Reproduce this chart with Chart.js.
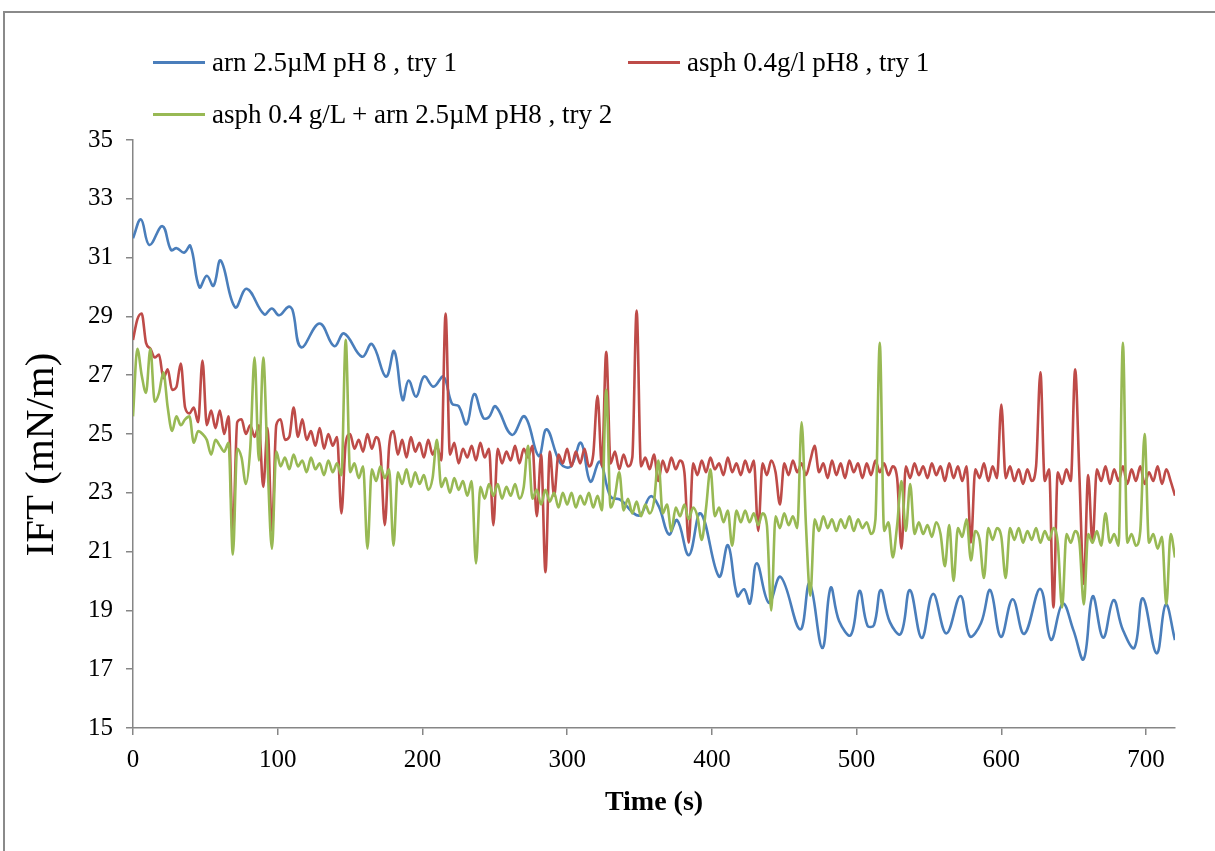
<!DOCTYPE html>
<html><head><meta charset="utf-8">
<script src="https://cdn.jsdelivr.net/npm/chart.js@4.4.1/dist/chart.umd.min.js"></script>
<style>
html,body{margin:0;padding:0;background:#fff;overflow:hidden;}
#wrap{position:relative;width:1215px;height:851px;overflow:hidden;}
#frame{position:absolute;left:3px;top:11px;width:1300px;height:1000px;border:2px solid #8a8a8a;box-sizing:border-box;}
#chart{position:absolute;left:0;top:0;}
.leg{position:absolute;height:30px;font-family:"Liberation Serif",serif;font-size:27px;color:#000;white-space:nowrap;display:flex;align-items:center;}
.leg .ln{display:inline-block;width:52px;height:3px;margin-right:7px;}
</style></head>
<body>
<div id="wrap">
<div id="frame"></div>
<canvas id="chart" width="1215" height="851"></canvas>
<div class="leg" style="left:153px;top:47px;"><span class="ln" style="background:#4a7ebb"></span>arn 2.5µM pH 8 , try 1</div>
<div class="leg" style="left:628px;top:47px;"><span class="ln" style="background:#be4b48"></span>asph 0.4g/l pH8 , try 1</div>
<div class="leg" style="left:153px;top:99px;"><span class="ln" style="background:#98b954"></span>asph 0.4 g/L + arn 2.5µM pH8 , try 2</div>
</div>
<script>
const seriesNames = ['arn 2.5µM pH 8 , try 1', 'asph 0.4g/l pH8 , try 1', 'asph 0.4 g/L + arn 2.5µM pH8 , try 2'];

const tBlue = [0,5.5,11.3,20.3,26.3,30.2,35.3,39.6,45.9,51,55.6,60.6,70.6,78.6,90.6,95.9,101,107.4,110.2,116.2,128.9,139,145.9,158.2,165.1,174.8,180.5,186.3,190.4,195.7,201.2,207.7,214.5,220.4,225,230.5,235.8,242,245.8,250.6,261.8,270.6,280.3,285.8,295.4,302.3,309.5,316,322.6,330,336.9,346,350.7,357.6,363.4,370.3,376,384.1,392.2,404.9,411.1,417.6,422.2,426.3,431,439.4,447.5,461,467.5,476.3,482.1,487.9,496,502,507.5,512,516.7,523,530.5,536.8,545,552.8,562,571.8,578.2,585.9,592.3,599.7,607.8,615.8,626.9,634.3,642.4,649.8,656.9,663.1,670.4,677.5,683.8,691.9,697.7,707.3,713.6,720];
const vBlue = [31.66,32.30,31.43,32.07,31.26,31.32,31.17,31.40,29.99,30.38,30.04,30.90,29.31,29.94,29.07,29.27,29.04,29.33,29.22,27.95,28.76,27.99,28.42,27.63,28.06,26.95,27.82,26.16,26.82,26.27,26.96,26.61,26.95,26.03,25.95,25.33,26.36,25.55,25.57,25.94,24.97,25.60,24.25,25.16,24.00,23.89,24.70,23.38,24.06,22.87,22.76,22.30,22.25,22.88,22.53,21.58,22.07,20.88,22.30,20.15,21.22,19.49,19.72,19.24,20.60,19.26,20.14,18.35,19.92,17.72,19.77,18.64,18.16,19.66,18.48,18.50,19.69,18.60,18.20,19.69,18.06,19.56,18.22,19.49,18.12,18.56,19.69,18.10,19.38,18.20,19.73,18.00,19.23,18.33,17.34,19.48,18.07,19.35,18.36,17.73,19.41,17.54,19.20,17.99];

const tFast = [
0,3,6,9,12,15,18,21,24,27,
30,33,36,39,42,45,48,51,54,57,
60,63,66,69,72,75,78,81,84,87,
90,93,96,99,102,105,108,111,114,117,
120,123,126,129,132,135,138,141,144,147,
150,153,156,159,162,165,168,171,174,177,
180,183,186,189,192,195,198,201,204,207,
210,213,216,219,222,225,228,231,234,237,
240,243,246,249,252,255,258,261,264,267,
270,273,276,279,282,285,288,291,294,297,
300,303,306,309,312,315,318,321,324,327,
330,333,336,339,342,345,348,351,354,357,
360,363,366,369,372,375,378,381,384,387,
390,393,396,399,402,405,408,411,414,417,
420,423,426,429,432,435,438,441,444,447,
450,453,456,459,462,465,468,471,474,477,
480,483,486,489,492,495,498,501,504,507,
510,513,516,519,522,525,528,531,534,537,
540,543,546,549,552,555,558,561,564,567,
570,573,576,579,582,585,588,591,594,597,
600,603,606,609,612,615,618,621,624,627,
630,633,636,639,642,645,648,651,654,657,
660,663,666,669,672,675,678,681,684,687,
690,693,696,699,702,705,708,711,714,717,
720];

const vRed = [
28.2,28.9,29.1,28.1,27.9,27.6,27.7,26.9,27.2,26.5,
26.6,27.4,25.9,25.7,25.9,25.4,27.5,25.3,25.8,25.2,
25.8,25.0,25.6,21.6,25.4,25.5,25.0,25.3,24.9,25.3,
23.2,25.2,21.7,25.3,25.5,24.8,24.9,25.9,24.9,25.5,
24.8,25.1,24.6,25.2,24.5,25.0,24.6,24.9,22.3,24.7,
25.0,24.5,24.8,24.4,25.0,24.5,24.9,24.4,21.9,24.6,
25.1,24.3,24.8,24.2,24.9,24.4,24.7,24.2,24.8,24.3,
24.6,24.1,29.1,24.3,24.7,24.0,24.5,24.2,24.6,24.1,
24.7,24.2,24.5,21.9,24.5,24.0,24.4,24.1,24.6,24.0,
24.5,24.2,24.6,22.2,24.3,20.3,24.4,22.9,24.3,24.0,
24.5,23.9,24.4,24.0,24.5,23.9,24.3,26.3,23.9,27.8,
24.0,24.4,23.8,24.3,23.9,24.2,29.2,23.9,24.2,23.8,
24.3,23.4,24.1,23.7,24.2,23.8,24.1,23.7,21.3,24.0,
23.6,24.1,23.7,24.2,23.8,24.0,23.6,24.2,23.7,24.0,
23.6,24.1,23.7,24.1,21.7,24.0,23.6,24.1,23.7,22.6,
24.0,23.6,24.1,23.7,24.0,23.6,24.1,24.6,23.7,24.0,
23.5,24.1,23.6,24.0,23.5,24.1,23.7,24.0,23.5,24.0,
23.6,24.1,23.7,24.0,23.6,23.9,23.5,21.1,23.9,23.5,
24.0,23.6,23.9,23.5,24.0,23.6,23.9,23.4,24.0,23.5,
23.9,23.4,23.9,21.3,23.8,23.5,24.0,23.4,23.9,23.5,
26.0,23.5,23.9,23.4,23.8,23.3,23.8,23.4,23.9,27.1,
23.4,23.8,19.1,23.7,23.3,23.8,23.4,27.2,23.5,19.9,
23.6,21.3,23.8,23.4,23.9,23.3,23.8,23.4,23.9,23.3,
23.8,23.4,23.9,23.3,23.7,23.4,23.9,23.3,23.8,23.4,
22.9];

const vGreen = [
25.6,27.9,27.0,26.4,27.9,26.1,26.4,27.1,25.9,25.1,
25.6,25.3,25.5,25.6,24.7,25.1,25.0,24.8,24.3,24.8,
24.6,24.4,24.7,20.9,24.5,24.2,23.3,24.5,27.6,24.1,
27.6,24.0,21.1,24.4,23.9,24.2,23.8,24.3,23.9,24.1,
23.7,24.2,23.8,24.0,23.6,24.1,23.7,24.0,23.6,28.2,
23.7,24.0,23.5,23.9,21.1,23.8,23.4,23.9,23.5,23.8,
21.2,23.7,23.3,23.8,23.2,23.7,23.3,23.6,23.1,23.5,
24.8,23.2,23.5,23.0,23.5,23.1,23.4,22.9,23.4,20.6,
23.2,22.8,23.3,22.9,23.3,22.8,23.2,22.9,23.3,22.8,
23.2,24.6,22.8,23.1,22.6,23.1,22.7,23.0,22.5,23.0,
22.6,23.0,22.5,22.9,22.6,23.0,22.5,22.9,22.4,26.5,
22.5,22.9,23.7,22.4,22.8,22.3,22.7,22.2,22.6,22.3,
22.7,24.1,22.3,22.6,21.7,22.5,22.2,22.6,22.1,22.5,
22.2,21.4,22.5,23.8,22.2,22.5,22.0,22.4,21.2,22.4,
22.0,22.4,22.0,22.3,21.9,22.3,21.9,19.0,22.2,21.8,
22.3,21.9,22.2,21.8,25.4,21.9,19.5,22.1,21.7,22.2,
21.8,22.1,21.7,22.1,21.8,22.2,21.7,22.1,21.8,22.0,
21.6,22.1,28.1,21.7,22.0,20.8,21.9,23.4,21.7,23.3,
21.6,22.0,21.6,21.9,21.5,22.0,21.6,20.5,21.9,20.0,
21.8,21.5,22.1,20.7,21.7,21.4,20.1,21.8,21.4,21.8,
21.5,20.1,21.8,21.4,21.8,21.3,21.7,21.4,21.8,21.3,
21.7,21.4,21.8,21.3,19.1,21.6,21.3,21.7,21.3,19.2,
21.6,21.3,21.7,21.2,22.3,21.3,21.6,21.2,28.1,21.3,
21.6,21.2,21.7,25.0,21.3,21.6,21.1,21.5,19.2,21.6,
20.8];

const xTicks = [0,100,200,300,400,500,600,700];
const yTicks = [15,17,19,21,23,25,27,29,31,33,35];

function pts(ts, vs){ return ts.map((t,i)=>({x:t,y:vs[i]})); }

const tickFont = {family:'"Liberation Serif", serif', size:25};
new Chart(document.getElementById('chart'), {
  type:'line',
  data:{datasets:[
    {label:seriesNames[0], data:pts(tBlue,vBlue), borderColor:'#4a7ebb', borderWidth:2.6, pointRadius:0, tension:0.4, order:3},
    {label:seriesNames[1], data:pts(tFast,vRed), borderColor:'#be4b48', borderWidth:2.6, pointRadius:0, cubicInterpolationMode:'monotone', order:2},
    {label:seriesNames[2], data:pts(tFast,vGreen), borderColor:'#98b954', borderWidth:2.6, pointRadius:0, cubicInterpolationMode:'monotone', order:1}
  ]},
  options:{
    responsive:false, animation:false, events:[],
    layout:{padding:{left:0,right:40,top:140,bottom:0}},
    plugins:{legend:{display:false}, tooltip:{enabled:false}},
    scales:{
      x:{type:'linear', min:0, max:720,
        afterBuildTicks(s){ s.ticks = xTicks.map(v=>({value:v})); },
        ticks:{font:tickFont, color:'#000', padding:10, maxRotation:0, autoSkip:false},
        grid:{display:true, drawOnChartArea:false, drawTicks:true, tickLength:7, color:'#868686', lineWidth:1.5},
        border:{display:true, color:'#868686', width:1.5},
        title:{display:true, text:'Time (s)', color:'#000', font:{family:'"Liberation Serif", serif', size:28, weight:'bold'}, padding:{top:0,bottom:31}},
        afterFit(s){ s.height = 123; }
      },
      y:{type:'linear', min:15, max:35,
        afterBuildTicks(s){ s.ticks = yTicks.map(v=>({value:v})); },
        ticks:{font:tickFont, color:'#000', padding:13, autoSkip:false},
        grid:{display:true, drawOnChartArea:false, drawTicks:true, tickLength:7, color:'#868686', lineWidth:1.5},
        border:{display:true, color:'#868686', width:1.5},
        title:{display:true, text:'IFT (mN/m)    ', color:'#000', font:{family:'"Liberation Serif", serif', size:41}, padding:{top:18,bottom:0}},
        afterFit(s){ s.width = 133; }
      }
    }
  }
});
</script>
</body></html>
